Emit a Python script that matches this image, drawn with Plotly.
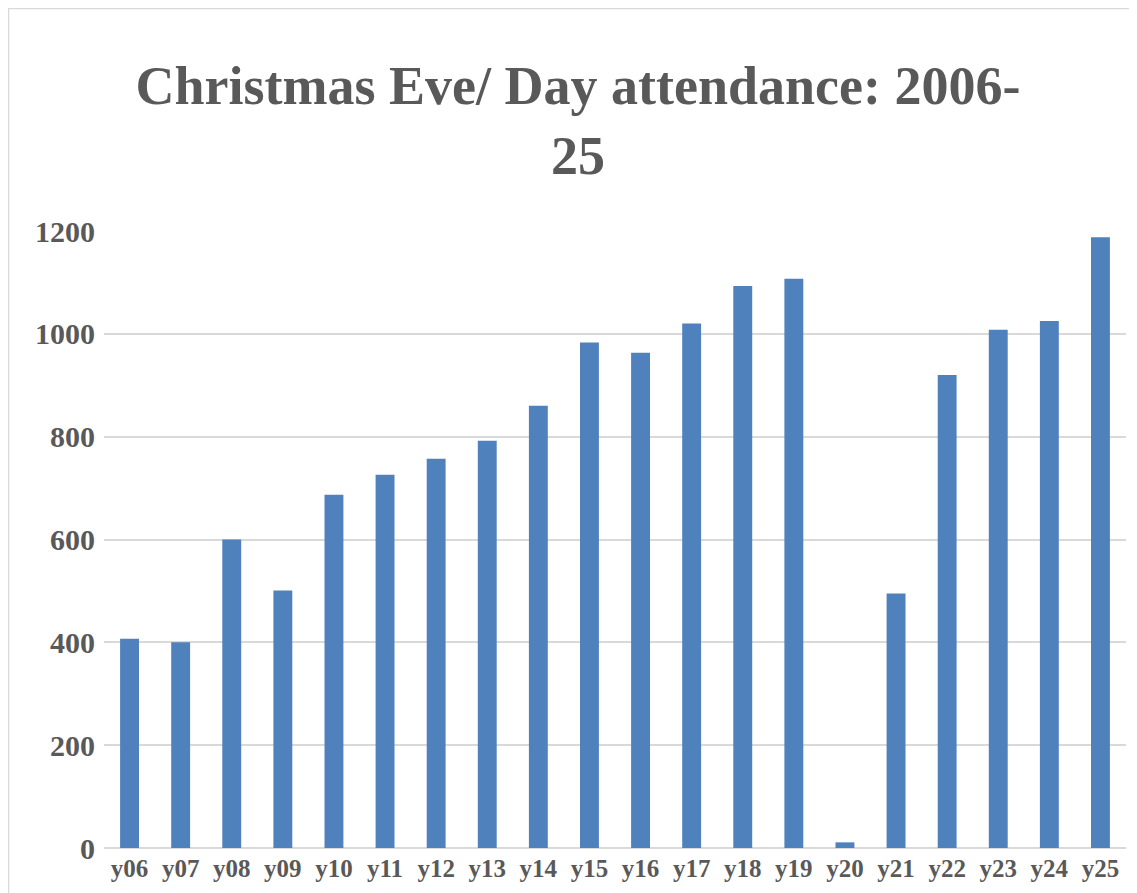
import plotly.graph_objects as go

categories = ["y06", "y07", "y08", "y09", "y10", "y11", "y12", "y13", "y14", "y15",
              "y16", "y17", "y18", "y19", "y20", "y21", "y22", "y23", "y24", "y25"]
attendance = [407, 400, 600, 501, 687, 726, 757, 792, 860, 983,
              963, 1020, 1093, 1107, 11, 495, 920, 1008, 1025, 1188]
y_ticks = [0, 200, 400, 600, 800, 1000, 1200]
title_text = "Christmas Eve/ Day attendance: 2006-<br>25"

W, H = 1137, 893
OFF = 8  # page body margin offset
L, R, T, B = 104 - OFF, 11 + OFF, 231 - OFF, 45 + OFF
pw, ph = W - L - R, H - T - B

fig = go.Figure(go.Bar(x=categories, y=attendance, marker=dict(color="#4F81BD", line=dict(width=0))))

fig.update_layout(
    width=W, height=H,
    margin=dict(l=L, r=R, t=T, b=B, pad=0),
    paper_bgcolor="white", plot_bgcolor="white",
    bargap=0.63, showlegend=False,
    title=dict(text=title_text, xref="container", x=(578 - OFF) / W, xanchor="center",
               yref="container", y=1 - 96 / H, yanchor="top",
               font=dict(family="Liberation Serif", size=54, color="#595959", weight="bold")),
    font=dict(family="Liberation Serif", color="#595959"),
)
fig.update_yaxes(range=[0, 1200], tickvals=y_ticks, showgrid=True, gridcolor="#d9d9d9", gridwidth=1.5,
                 zeroline=True, zerolinecolor="#d9d9d9", zerolinewidth=2,
                 tickfont=dict(family="Liberation Serif", size=30, color="#595959", weight="bold"),
                 ticks="", ticklabelstandoff=8, showline=False)
fig.update_xaxes(showgrid=False, ticks="", showline=False,
                 tickfont=dict(family="Liberation Serif", size=25, color="#595959", weight="bold"),
                 ticklabelstandoff=3)

# outer chart-area border (cropped on the right and bottom)
fig.add_shape(type="rect", xref="paper", yref="paper",
              x0=(8.5 - OFF - L) / pw, x1=1.1, y0=-0.3, y1=(H - B - (8.5 - OFF)) / ph,
              line=dict(color="#d9d9d9", width=1.5), fillcolor="rgba(0,0,0,0)", layer="above")

fig.write_html("out.html")
